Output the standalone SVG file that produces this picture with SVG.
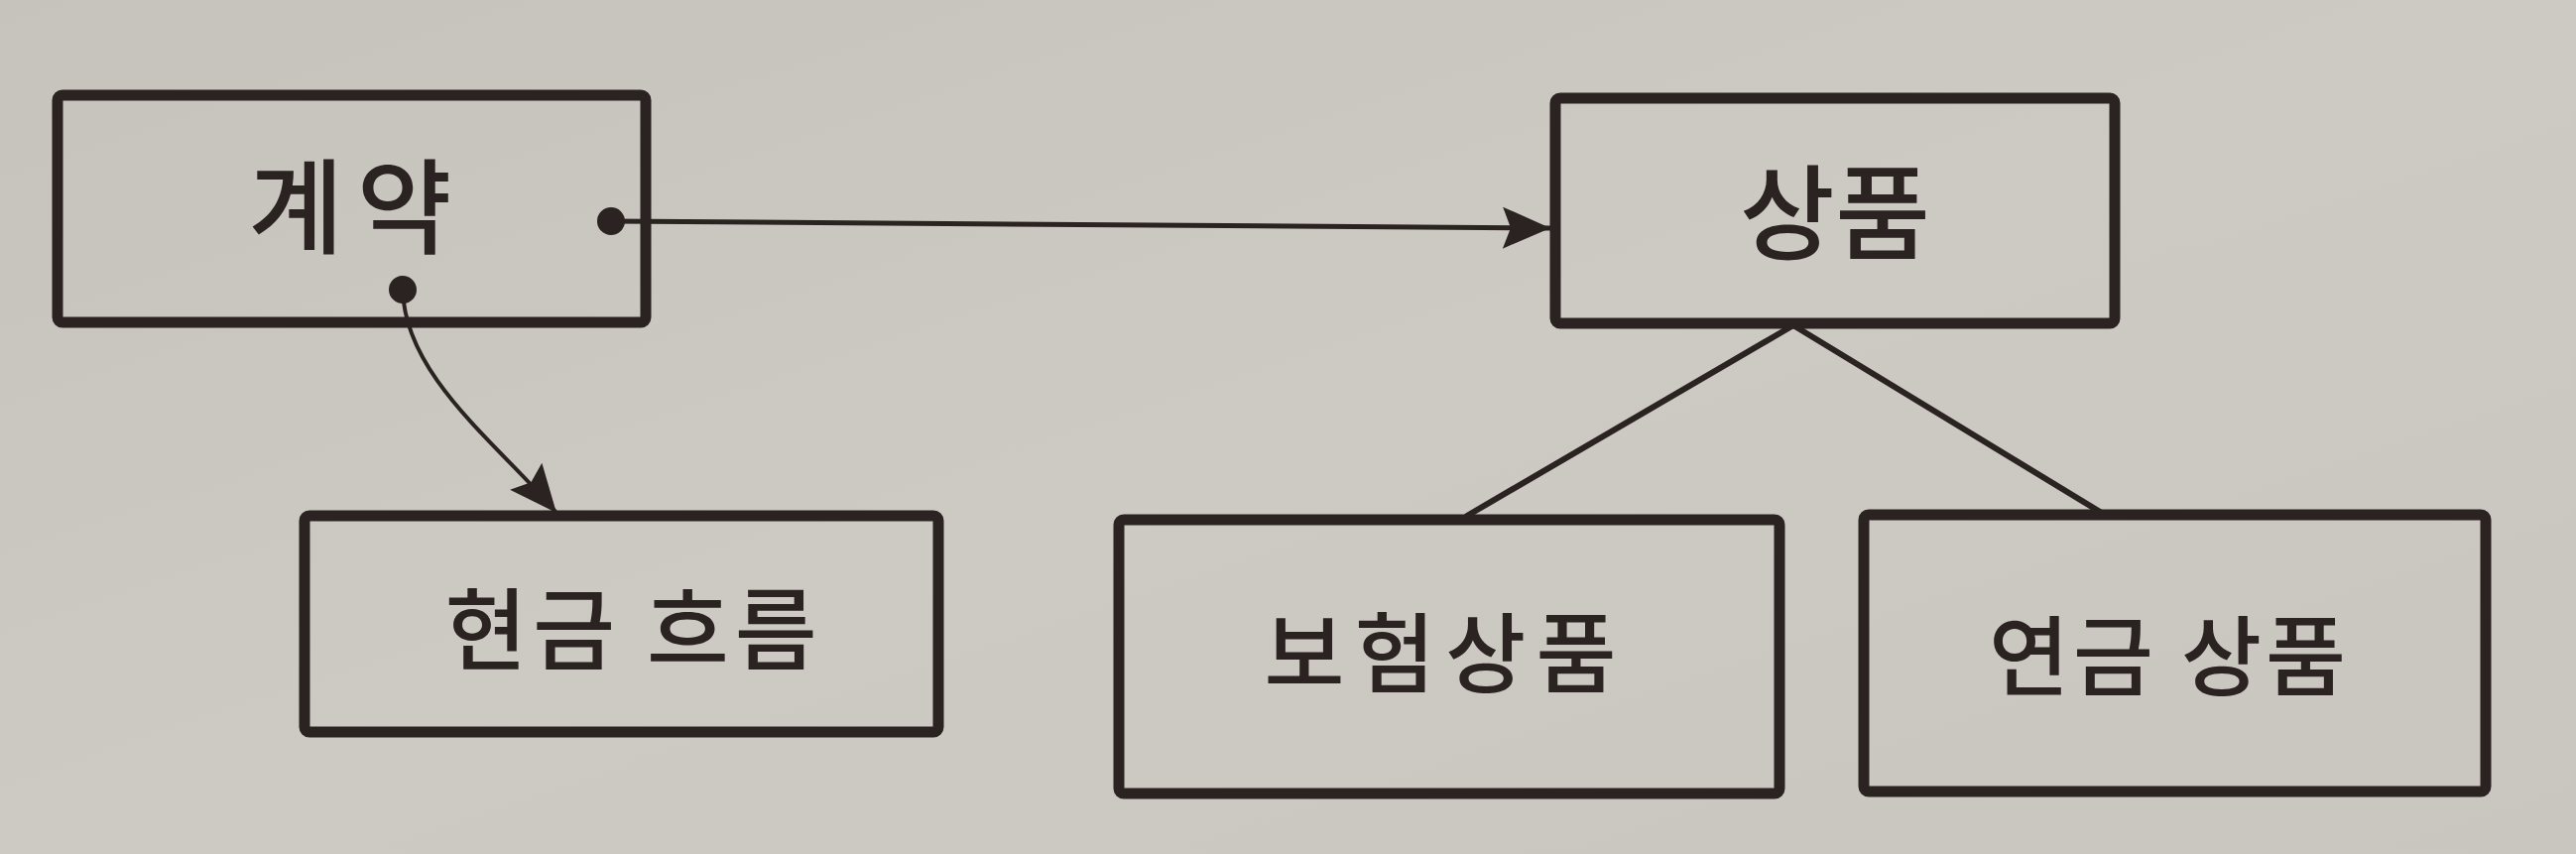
<svg xmlns="http://www.w3.org/2000/svg" width="2597" height="861" viewBox="0 0 2597 861">
<style>
.box{fill:none;stroke:#2a2321;stroke-width:11;stroke-linejoin:round}
.lbl{font-family:"Noto Sans CJK KR","Noto Sans",sans-serif;font-weight:500;fill:#2a2321;text-anchor:middle}
.conn{fill:none;stroke:#2a2321;stroke-linecap:round}
</style>
<defs>
<linearGradient id="bg" x1="0" y1="0" x2="1" y2="1">
<stop offset="0" stop-color="#c6c3bc"/>
<stop offset="0.5" stop-color="#cdcac3"/>
<stop offset="1" stop-color="#c9c6bf"/>
</linearGradient>
<marker id="dot" markerUnits="userSpaceOnUse" markerWidth="34" markerHeight="34" refX="17" refY="17" orient="auto">
<circle cx="17" cy="17" r="14" fill="#2a2321"/>
</marker>
<marker id="arrow" markerUnits="userSpaceOnUse" markerWidth="54" markerHeight="48" refX="50" refY="24" orient="auto">
<path d="M2,3 L50,24 L2,45 L10,24 Z" fill="#2a2321"/>
</marker>
</defs>
<rect width="2597" height="861" fill="url(#bg)"/>
<g id="connectors">
<path class="conn" d="M616,223 L1563,230" stroke-width="5" marker-start="url(#dot)" marker-end="url(#arrow)"/>
<path class="conn" d="M406,292 C408,380 505,450 561,517" stroke-width="4" marker-start="url(#dot)" marker-end="url(#arrow)"/>
<path class="conn" d="M1808,328 L1479,520" stroke-width="6"/>
<path class="conn" d="M1808,328 L2122,519" stroke-width="6"/>
</g>
<g id="node-contract">
<rect class="box" x="58" y="96" width="593" height="229" rx="5"/>
<text class="lbl" x="353" y="248" font-size="104" textLength="205" lengthAdjust="spacing">계약</text>
</g>
<g id="node-product">
<rect class="box" x="1568" y="99" width="564" height="227" rx="5"/>
<text class="lbl" x="1850" y="254" font-size="104" textLength="192" lengthAdjust="spacing">상품</text>
</g>
<g id="node-cashflow">
<rect class="box" x="307" y="520" width="639" height="218" rx="5"/>
<text class="lbl" x="636" y="668" font-size="90" textLength="375" lengthAdjust="spacing">현금 흐름</text>
</g>
<g id="node-insurance">
<rect class="box" x="1128" y="524" width="666" height="276" rx="5"/>
<text class="lbl" x="1452" y="691" font-size="88" textLength="355" lengthAdjust="spacing">보험상품</text>
</g>
<g id="node-annuity">
<rect class="box" x="1879" y="519" width="627" height="279" rx="5"/>
<text class="lbl" x="2185" y="694" font-size="88" textLength="360" lengthAdjust="spacing">연금 상품</text>
</g>
</svg>
